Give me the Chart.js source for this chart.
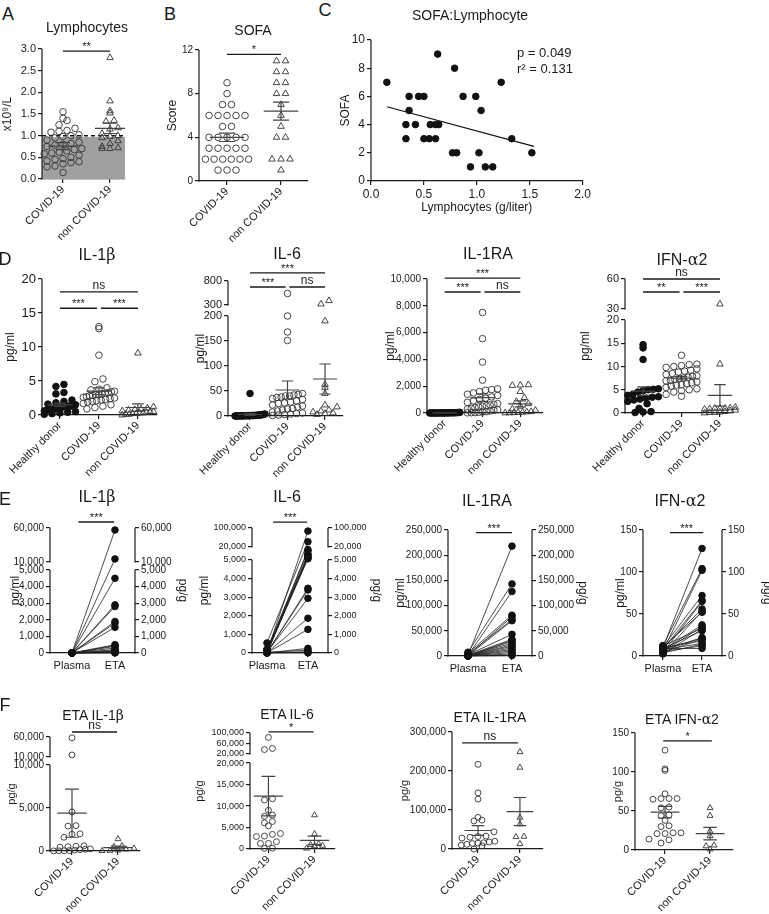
<!DOCTYPE html>
<html>
<head>
<meta charset="utf-8">
<script src="https://cdn.jsdelivr.net/npm/chart.js@4.4.1/dist/chart.umd.min.js"></script>
<style>
html, body { margin: 0; padding: 0; background: #fff; overflow: hidden; }
#page { position: relative; width: 769px; height: 914px; font-family: "Liberation Sans", Arial, Helvetica, sans-serif; color: #1a1a1a; }
#page canvas { position: absolute; }
.txt { position: absolute; transform: translate(-50%, -50%); white-space: nowrap; line-height: 1; }
.gauche { transform: translate(0, -50%); }
.grec { font-family: "DejaVu Serif", "Liberation Serif", serif; }
</style>
</head>
<body>
<div id="page"></div>
<script>
// ==========================================================
// DONNEES
// ==========================================================
const catsDeux = ['COVID-19', 'non COVID-19'];
const catsTrois = ['Healthy donor', 'COVID-19', 'non COVID-19'];
const catsPaires = ['Plasma', 'ETA'];

// A - Lymphocytes (x10^9/L)
const lymphoCovid = [1.55, 1.40, 1.35, 1.25, 1.17, 1.12, 1.10, 1.08, 1.02, 1.00, 0.98, 0.95, 0.90, 0.85, 0.82, 0.80, 0.78, 0.75, 0.70, 0.68, 0.65, 0.62, 0.60, 0.58, 0.55, 0.50, 0.47, 0.45, 0.42, 0.40, 0.38, 0.35, 0.30, 0.28, 0.15];
const lymphoNonCovid = [2.80, 1.80, 1.57, 1.52, 1.35, 1.33, 1.18, 1.15, 1.05, 1.00, 0.98, 0.95, 0.88, 0.82, 0.75, 0.72, 0.70, 0.70];
const lymphoMoy = [0.76, 1.17];
const lymphoSem = [0.08, 0.12];
const lymphoSeuil = 1.0;
const lymphoZoneGrise = 0.97;
const lymphoTicks = [0, 0.5, 1, 1.5, 2, 2.5, 3];

// B - SOFA
const sofaCovid = [9, 8, 7, 7, 6, 6, 6, 6, 6, 5, 5, 4, 4, 4, 4, 4, 3, 3, 3, 3, 3, 2, 2, 2, 2, 2, 2, 1, 1, 1];
const sofaNonCovid = [11, 11, 10, 10, 9, 9, 8, 8, 7, 6, 5, 4, 4, 2, 2, 2, 1];
const sofaMoy = [4.0, 6.4];
const sofaSem = [0.38, 0.83];
const sofaTicks = [0, 4, 8, 12];

// C - SOFA:Lymphocyte
const corrLympho = [0.15, 0.36, 0.45, 0.50, 0.36, 0.33, 0.42, 0.33, 0.50, 0.55, 0.61, 0.56, 0.61, 0.64, 0.63, 0.79, 0.77, 0.81, 0.87, 0.94, 0.99, 1.02, 1.04, 1.08, 1.15, 1.23, 1.33, 1.52];
const corrSofa = [7, 6, 6, 6, 5, 4, 4, 3, 3, 3, 3, 4, 4, 4, 9, 8, 2, 2, 6, 1, 6, 2, 5, 1, 1, 7, 3, 2];
const corrOrigine = 5.57;
const corrPente = -2.02;
const corrBornes = [0.15, 1.54];
const corrTicksY = [0, 2, 4, 6, 8, 10];

// D - cytokines plasmatiques (pg/ml)
const il1bSain = [4.5, 4.2, 3.3, 3.1, 2.2, 2.0, 1.8, 1.6, 1.5, 1.4, 1.3, 1.3, 1.2, 1.2, 1.1, 1.0, 1.0, 0.9, 0.8, 0.8, 0.7, 0.6, 0.5, 0.4, 0.3, 0.2, 0.1];
const il1bCovid = [13.0, 12.7, 8.8, 5.3, 4.9, 4.0, 3.8, 3.7, 3.5, 3.4, 3.3, 3.2, 3.1, 3.0, 3.0, 2.9, 2.8, 2.7, 2.6, 2.5, 2.4, 2.3, 2.2, 2.1, 2.0, 1.9, 1.7, 1.5, 1.3, 1.1, 0.9];
const il1bNonCovid = [9.1, 1.2, 1.0, 0.9, 0.8, 0.7, 0.6, 0.5, 0.5, 0.4, 0.3, 0.3, 0.2, 0.2, 0.1, 0.1, 0.0];
const il1bMoy = [1.5, 3.5, 1.1];
const il1bSem = [0.25, 0.5, 0.55];
const il1bTicks = [0, 5, 10, 15, 20];

const il6Sain = [45, 4, 3, 3, 2, 2, 2, 1.5, 1.5, 1, 1, 1, 1, 0.8, 0.8, 0.5, 0.5, 0.5, 0.3, 0.3, 0.2, 0.2, 0.1, 0.1, 0, 0];
const il6Covid = [540, 200, 168, 151, 45, 43, 42, 40, 40, 38, 37, 35, 33, 30, 28, 26, 25, 22, 20, 18, 15, 14, 12, 10, 8, 6, 5, 4, 3, 2, 1];
const il6NonCovid = [390, 320, 190, 63, 57, 45, 22, 18, 12, 10, 8, 6, 5, 3];
const il6Moy = [3, 52, 74];
const il6Sem = [2, 18, 30];
const il6TicksBas = [0, 50, 100, 150, 200];
const il6TicksHaut = [300, 800];

const il1raSain = [50, 40, 30, 30, 20, 20, 20, 15, 15, 10, 10, 10, 10, 5, 5, 5, 5, 5, 3, 3, 2, 2, 1, 1, 0];
const il1raCovid = [7500, 5550, 3800, 2450, 1800, 1750, 1700, 1600, 1500, 1400, 1300, 1200, 1100, 1000, 900, 800, 700, 650, 600, 550, 500, 450, 400, 350, 300, 250, 200, 150, 100, 80, 50, 30, 20, 10];
const il1raNonCovid = [2100, 2050, 2080, 1600, 1150, 850, 700, 500, 300, 200, 100, 80, 50, 30, 20, 10, 5];
const il1raMoy = [10, 1150, 680];
const il1raSem = [3, 280, 230];
const il1raTicks = [0, 2000, 4000, 6000, 8000, 10000];

const ifnSain = [14.7, 14.0, 11.5, 5.2, 5.1, 5.0, 4.8, 4.5, 4.0, 3.8, 3.5, 3.4, 3.2, 3.0, 2.8, 2.5, 2.0, 1.0, 0.3, 0.2, 0.1];
const ifnCovid = [12.4, 10.5, 10.4, 10.2, 10.0, 9.8, 9.5, 9.2, 9.0, 8.8, 8.5, 8.3, 8.0, 7.9, 7.7, 7.5, 7.4, 7.2, 7.0, 6.9, 6.7, 6.5, 6.3, 6.1, 6.0, 5.8, 5.5, 5.2, 5.0, 4.8, 4.5, 4.0, 3.6];
const ifnNonCovid = [35, 10.5, 1.2, 1.1, 1.0, 1.0, 1.0, 0.9, 0.8, 0.6, 0.5, 0.3, 0.2, 0.1, 0.1, 0.0];
const ifnMoy = [4.7, 7.5, 3.8];
const ifnSem = [0.9, 0.35, 2.3];
const ifnTicksBas = [0, 5, 10, 15, 20];
const ifnTicksHaut = [30, 60];

// E - plasma (pg/ml) vs aspiration endotrachéale (pg/g), appariés
const pairIl1bPlasma = [3.2, 13, 2.4, 5.3, 12.7, 2.0, 8.8, 4.9, 1.5, 3.8, 2.8, 4.0, 1.2, 3.0, 2.2, 1.0, 3.6, 2.6, 1.8, 3.4];
const pairIl1bEta = [57000, 14500, 4500, 2900, 2800, 1900, 1800, 1550, 500, 450, 400, 300, 200, 150, 100, 80, 50, 30, 20, 10];
const pairIl6Plasma = [45, 540, 30, 168, 20, 151, 10, 200, 42, 38, 15, 28, 35, 8, 12, 5, 40, 3, 25, 1];
const pairIl6Eta = [87000, 42000, 17000, 15500, 11700, 11400, 9000, 7900, 7600, 6400, 3480, 3390, 2940, 1870, 1270, 250, 150, 70, 30, 10];
const pairIl1raPlasma = [1800, 7500, 1300, 5500, 900, 3800, 500, 2400, 1700, 700, 300, 1500, 200, 1100, 400, 100, 600, 50, 150, 20];
const pairIl1raEta = [218000, 143000, 128000, 81000, 78000, 72000, 70000, 43000, 33000, 31000, 29000, 25000, 22000, 19000, 16000, 13000, 10000, 7000, 4000, 1000];
const pairIfnPlasma = [10, 12.4, 6, 11, 8, 4, 9.5, 3, 10.5, 7, 5, 12, 2.5, 9, 6.5, 8.5, 4.5, 10.2, 7.5, 3.6, 5.5, 8.8];
const pairIfnEta = [128, 104, 102, 72, 66, 65, 56, 53, 52, 37, 35, 33, 32, 30, 22, 21, 20, 18, 15, 14, 12, 9];
const pairIl1bTicksBas = [0, 1000, 2000, 3000, 4000, 5000];
const pairIl1bTicksHaut = [10000, 60000];
const pairIl6TicksBas = [0, 1000, 2000, 3000, 4000, 5000];
const pairIl6TicksHaut = [20000, 100000];
const pairIl1raTicks = [0, 50000, 100000, 150000, 200000, 250000];
const pairIfnTicks = [0, 50, 100, 150];

// F - ETA (pg/g)
const etaIl1bCovid = [58000, 15000, 4550, 2950, 2900, 2000, 1950, 1600, 600, 550, 500, 450, 250, 200, 150, 100, 50, 30, 20, 10];
const etaIl1bNonCovid = [1400, 600, 500, 300, 200, 100, 50, 20];
const etaIl1bMoy = [4400, 400];
const etaIl1bSem = [2800, 170];
const etaIl1bTicksBas = [0, 5000, 10000];
const etaIl1bTicksHaut = [10000, 60000];

const etaIl6Covid = [83000, 41000, 37000, 11700, 11400, 9000, 7900, 7600, 6400, 6100, 5400, 3600, 3400, 3000, 2900, 1700, 1300, 1300, 200, 150];
const etaIl6NonCovid = [7900, 3500, 1200, 1000, 800, 700, 150];
const etaIl6Moy = [12300, 2000];
const etaIl6Sem = [4600, 1000];
const etaIl6TicksBas = [0, 5000, 10000, 15000, 20000];
const etaIl6TicksHaut = [20000, 60000, 100000];

const etaIl1raCovid = [217000, 144000, 128000, 81000, 74000, 72000, 44000, 33000, 32000, 30000, 28000, 20000, 18000, 16000, 15000, 14000, 12000, 10000, 8000, 0];
const etaIl1raNonCovid = [249000, 209000, 81000, 64000, 32000, 31000, 13000];
const etaIl1raMoy = [47500, 96000];
const etaIl1raSem = [12500, 36000];
const etaIl1raTicks = [0, 100000, 200000, 300000];

const etaIfnCovid = [128, 104, 102, 72, 66, 66, 66, 65, 55, 54, 45, 44, 38, 31, 30, 22, 22, 21, 21, 14, 13, 9];
const etaIfnNonCovid = [54, 44, 24, 18, 6, 5, 1];
const etaIfnMoy = [48.5, 21];
const etaIfnSem = [7.5, 8];
const etaIfnTicks = [0, 50, 100, 150];

// ==========================================================
// STYLES
// ==========================================================
const NOIR = '#1a1a1a';
const POLICE = '"Liberation Sans", Arial, Helvetica, sans-serif';
Chart.defaults.font.family = POLICE;
Chart.defaults.color = NOIR;

const OUVERT = { forme: 'circle', r: 3.3, trait: '#333', fond: 'rgba(0,0,0,0)', ep: 0.9 };
const PLEIN = { forme: 'circle', r: 3.3, trait: '#111', fond: '#111', ep: 1 };
const TRIANGLE = { forme: 'triangle', r: 3.8, trait: '#333', fond: 'rgba(0,0,0,0)', ep: 0.9 };

const fmtMilliers = v => v.toLocaleString('en-US');
const fmtDecimal = v => v.toFixed(1);

// ==========================================================
// AXE COUPE (échelle linéaire par morceaux)
// ==========================================================
function segFrac(segs, v) {
    const n = segs.length;
    for (let i = 0; i < n; i++) {
        const s = segs[i];
        if (v <= s.max || i === n - 1) {
            if (v >= s.min || i === 0) return s.from + (v - s.min) / (s.max - s.min) * (s.to - s.from);
            const p = segs[i - 1]; // dans la coupure
            return p.to + (v - p.max) / (s.min - p.max) * (s.from - p.to);
        }
    }
    return NaN;
}

class EchelleCoupee extends Chart.LinearScale {
    static id = 'coupee';
    static defaults = {};
    segs() { return this.chart.canvas._segs; }
    buildTicks() {
        const t = [];
        this.segs().forEach((s, i) => s.ticks.forEach(v => t.push({ value: v, seg: i })));
        return t;
    }
    fracToPix(f) { return this.bottom - f * (this.bottom - this.top); }
    getPixelForValue(v) { return this.fracToPix(segFrac(this.segs(), v)); }
    getPixelForTick(i) {
        const t = this.ticks[i];
        if (!t) return null;
        const s = this.segs()[t.seg];
        return this.fracToPix(s.from + (t.value - s.min) / (s.max - s.min) * (s.to - s.from));
    }
    getValueForPixel(px) {
        const f = (this.bottom - px) / (this.bottom - this.top);
        const segs = this.segs();
        let s = segs[segs.length - 1];
        for (const sg of segs) { if (f <= sg.to) { s = sg; break; } }
        return s.min + (f - s.from) / (s.to - s.from) * (s.max - s.min);
    }
}
Chart.register(EchelleCoupee);

// Axe vertical (avec coupures) + crochets de significativité
const decor = {
    id: 'decor',
    afterDatasetsDraw(chart) {
        const ctx = chart.ctx, ca = chart.chartArea;
        const segs = chart.canvas._segs;
        ctx.save();
        ctx.strokeStyle = NOIR;
        ctx.lineWidth = 1.2;
        ['y', 'y2'].forEach(k => {
            const s = chart.scales[k];
            if (!s) return;
            const xx = k === 'y' ? ca.left : ca.right;
            segs.forEach(sg => {
                ctx.beginPath();
                ctx.moveTo(xx, s.fracToPix(sg.from) + 0.6);
                ctx.lineTo(xx, s.fracToPix(sg.to));
                ctx.stroke();
            });
        });
        const xs = chart.scales.x, ys = chart.scales.y;
        ctx.fillStyle = NOIR;
        ctx.textAlign = 'center';
        ctx.textBaseline = 'alphabetic';
        chart.canvas._crochets.forEach(c => {
            const xa = xs.getPixelForValue(c.a), xb = xs.getPixelForValue(c.b), yy = ys.getPixelForValue(c.y);
            ctx.lineWidth = 1.3;
            ctx.beginPath();
            ctx.moveTo(xa, yy);
            ctx.lineTo(xb, yy);
            ctx.stroke();
            const ns = c.t === 'ns';
            ctx.font = (ns ? '12px ' : '11px ') + POLICE;
            ctx.fillText(c.t, (xa + xb) / 2, yy - (ns ? 3 : 1));
        });
        ctx.restore();
    }
};

// ==========================================================
// CONSTRUCTION DES JEUX DE DONNEES
// ==========================================================
function essaim(vals, segs, hPx, unitPx, pasH, largeurMax) {
    const py = vals.map(v => segFrac(segs, v) * hPx);
    const rangs = new Map();
    vals.map((v, i) => i).sort((a, b) => py[a] - py[b]).forEach(i => {
        const r = Math.round(py[i] / 7);
        if (!rangs.has(r)) rangs.set(r, []);
        rangs.get(r).push(i);
    });
    const off = vals.map(() => 0);
    rangs.forEach(liste => {
        const n = liste.length;
        const ecart = n > 1 ? Math.min(pasH, largeurMax / (n - 1)) : 0;
        liste.forEach((i, k) => { off[i] = (k - (n - 1) / 2) * ecart / unitPx; });
    });
    return off;
}

function nuage(points, st, echelle) {
    return {
        type: 'scatter', data: points, showLine: false, clip: false,
        pointStyle: st.forme, pointRadius: st.r * (echelle || 1), pointBorderWidth: st.ep,
        pointBorderColor: st.trait, pointBackgroundColor: st.fond
    };
}

function barresMoy(moy, sem) {
    const d = [];
    const mh = 0.32, ch = 0.15;
    moy.forEach((m, i) => {
        const s = sem[i];
        d.push({ x: i - mh, y: m }, { x: i + mh, y: m }, { x: i, y: null },
               { x: i, y: m - s }, { x: i, y: m + s }, { x: i, y: null },
               { x: i - ch, y: m + s }, { x: i + ch, y: m + s }, { x: i, y: null },
               { x: i - ch, y: m - s }, { x: i + ch, y: m - s }, { x: i, y: null });
    });
    return { type: 'line', data: d, borderColor: '#444', borderWidth: 1.2, pointRadius: 0, spanGaps: false, clip: false, order: -1 };
}

function lignesPaires(avant, apres) {
    const d = [];
    avant.forEach((v, i) => d.push({ x: 0, y: v }, { x: 1, y: apres[i] }, { x: 1, y: null }));
    return { type: 'line', data: d, borderColor: '#222', borderWidth: 0.8, pointRadius: 0, spanGaps: false, clip: false, order: 1 };
}

// ==========================================================
// PANNEAU GENERIQUE
// ==========================================================
function creerPanneau(p) {
    const [L, T, W, H] = p.boite;
    const [x0, y0, x1, y1] = p.zone;
    const cv = document.createElement('canvas');
    cv.width = W;
    cv.height = H;
    cv.style.left = L + 'px';
    cv.style.top = T + 'px';
    cv._segs = p.segs;
    cv._crochets = p.crochets || [];
    document.getElementById('page').appendChild(cv);

    const unitPx = (x1 - x0) / (p.xMax - p.xMin);
    const datasets = [];
    (p.groupes || []).forEach((g, gi) => {
        const off = essaim(g.vals, p.segs, y1 - y0, unitPx, p.pasH || 8, 0.8 * unitPx);
        datasets.push(nuage(g.vals.map((v, k) => ({ x: gi + off[k], y: v })), g.st, p.taillePoint));
    });
    if (p.moy) datasets.push(barresMoy(p.moy, p.sem));
    if (p.paires) {
        datasets.push(lignesPaires(p.paires[0], p.paires[1]));
        datasets.push(nuage(p.paires[0].map(v => ({ x: 0, y: v })), PLEIN));
        datasets.push(nuage(p.paires[1].map(v => ({ x: 1, y: v })), PLEIN));
    }
    (p.extra || []).forEach(d => datasets.push(d));

    const axeY = (pos, titre) => ({
        type: 'coupee', position: pos,
        min: p.segs[0].min, max: p.segs[p.segs.length - 1].max,
        ticks: { autoSkip: false, padding: 2, color: NOIR, font: { size: p.tailleTicks || 11 }, callback: p.fmtY || fmtMilliers },
        grid: { drawOnChartArea: false, tickLength: 4, color: NOIR, lineWidth: 1.2 },
        border: { display: false },
        title: { display: !!titre, text: titre || '', color: NOIR, font: { size: p.tailleTitreAxe || 12 }, padding: 0 },
        afterFit: s => { s.width = pos === 'left' ? x0 - L : L + W - x1; }
    });

    const axeX = {
        type: 'linear', position: 'bottom', min: p.xMin, max: p.xMax,
        ticks: { autoSkip: false, color: NOIR, font: { size: 11 }, padding: p.rot ? 0 : 2, minRotation: p.rot || 0, maxRotation: p.rot || 0 },
        grid: { drawOnChartArea: false, tickLength: 4, color: NOIR, lineWidth: 1.2 },
        border: { display: true, color: NOIR, width: 1.2 },
        title: { display: !!p.titreX, text: p.titreX || '', color: NOIR, font: { size: 12 }, padding: 0 },
        afterFit: s => { s.height = T + H - y1; }
    };
    if (p.cats) {
        axeX.afterBuildTicks = s => { s.ticks = p.cats.map((c, i) => ({ value: i })); };
        axeX.ticks.callback = v => p.cats[v];
    } else {
        axeX.ticks.stepSize = p.pasX;
        axeX.ticks.font = { size: p.tailleTicks || 11 };
        axeX.ticks.callback = fmtDecimal;
    }

    const scales = { x: axeX, y: axeY('left', p.titreY) };
    if (p.titreY2) scales.y2 = axeY('right', p.titreY2);

    new Chart(cv, {
        type: 'scatter',
        data: { datasets },
        options: {
            responsive: false, animation: false, devicePixelRatio: 1, events: [],
            layout: { padding: { top: y0 - T, right: p.titreY2 ? 0 : L + W - x1, left: 0, bottom: 0 } },
            plugins: { legend: { display: false }, tooltip: { enabled: false } },
            scales
        },
        plugins: [decor]
    });
}

const seg1 = (ticks) => [{ min: ticks[0], max: ticks[ticks.length - 1], from: 0, to: 1, ticks }];
const seg2 = (bas, hautBas, haut, debutHaut) => [
    { min: bas[0], max: bas[bas.length - 1], from: 0, to: hautBas, ticks: bas },
    { min: haut[0], max: haut[haut.length - 1], from: debutHaut, to: 1, ticks: haut }
];

// ==========================================================
// LIGNE DU HAUT : A, B, C
// ==========================================================
creerPanneau({
    boite: [0, 30, 165, 215], zone: [42, 49, 125, 179], xMin: -0.447, xMax: 1.319,
    cats: catsDeux, rot: 45, segs: seg1(lymphoTicks), fmtY: fmtDecimal, titreY: 'x10⁹/L',
    groupes: [{ vals: lymphoCovid, st: OUVERT }, { vals: lymphoNonCovid, st: TRIANGLE }],
    moy: lymphoMoy, sem: lymphoSem,
    crochets: [{ a: 0, b: 1, y: 2.95, t: '**' }],
    extra: [
        { type: 'line', data: [{ x: -0.447, y: lymphoZoneGrise }, { x: 1.319, y: lymphoZoneGrise }], fill: 'origin', backgroundColor: '#a0a0a0', borderWidth: 0, pointRadius: 0, order: 5 },
        { type: 'line', data: [{ x: -0.447, y: lymphoSeuil }, { x: 1.319, y: lymphoSeuil }], borderColor: '#111', borderDash: [4, 3], borderWidth: 1.5, pointRadius: 0, order: 4 }
    ]
});

creerPanneau({
    boite: [165, 30, 150, 215], zone: [199, 50, 308, 181], xMin: -0.519, xMax: 1.5,
    cats: catsDeux, rot: 45, segs: seg1(sofaTicks), titreY: 'Score', pasH: 9, tailleTicks: 10,
    groupes: [{ vals: sofaCovid, st: OUVERT }, { vals: sofaNonCovid, st: TRIANGLE }],
    moy: sofaMoy, sem: sofaSem,
    crochets: [{ a: 0, b: 1, y: 11.6, t: '*' }]
});

creerPanneau({
    boite: [338, 30, 255, 185], zone: [371, 40, 586, 181], xMin: 0, xMax: 2, pasX: 0.5,
    segs: seg1(corrTicksY), titreY: 'SOFA', titreX: 'Lymphocytes (g/liter)', tailleTicks: 12,
    extra: [
        nuage(corrLympho.map((v, i) => ({ x: v, y: corrSofa[i] })), PLEIN),
        { type: 'line', data: corrBornes.map(v => ({ x: v, y: corrOrigine + corrPente * v })), borderColor: '#111', borderWidth: 1.2, pointRadius: 0 }
    ]
});

// ==========================================================
// LIGNE D
// ==========================================================
const crochetsD = (yHaut, yBas, tHaut, tG, tD) => [
    { a: 0, b: 2, y: yHaut, t: tHaut },
    { a: 0, b: 0.95, y: yBas, t: tG },
    { a: 1.05, b: 2, y: yBas, t: tD }
];

creerPanneau({
    boite: [3, 260, 172, 220], zone: [42, 279, 157, 415], xMin: -0.46, xMax: 2.49,
    cats: catsTrois, rot: 45, segs: seg1(il1bTicks), titreY: 'pg/ml', tailleTicks: 13,
    groupes: [{ vals: il1bSain, st: PLEIN }, { vals: il1bCovid, st: OUVERT }, { vals: il1bNonCovid, st: TRIANGLE }],
    moy: il1bMoy, sem: il1bSem,
    crochets: crochetsD(18.1, 15.7, 'ns', '***', '***')
});

creerPanneau({
    boite: [193, 255, 160, 225], zone: [228, 281, 343, 416], xMin: -0.587, xMax: 2.48,
    cats: catsTrois, rot: 45, segs: seg2(il6TicksBas, 0.741, il6TicksHaut, 0.822), titreY: 'pg/ml',
    groupes: [{ vals: il6Sain, st: PLEIN }, { vals: il6Covid, st: OUVERT }, { vals: il6NonCovid, st: TRIANGLE }],
    moy: il6Moy, sem: il6Sem,
    crochets: crochetsD(967, 675, '***', '***', 'ns')
});

creerPanneau({
    boite: [383, 260, 170, 220], zone: [427, 279, 543, 413], xMin: -0.47, xMax: 2.6,
    cats: catsTrois, rot: 45, segs: seg1(il1raTicks), titreY: 'pg/ml', tailleTicks: 10,
    groupes: [{ vals: il1raSain, st: PLEIN }, { vals: il1raCovid, st: OUVERT }, { vals: il1raNonCovid, st: TRIANGLE }],
    moy: il1raMoy, sem: il1raSem,
    crochets: crochetsD(10070, 9030, '***', '***', 'ns')
});

creerPanneau({
    boite: [578, 260, 165, 220], zone: [625, 279, 733, 413], xMin: -0.47, xMax: 2.34,
    cats: catsTrois, rot: 45, segs: seg2(ifnTicksBas, 0.694, ifnTicksHaut, 0.776), titreY: 'pg/ml',
    groupes: [{ vals: ifnSain, st: PLEIN }, { vals: ifnCovid, st: OUVERT }, { vals: ifnNonCovid, st: TRIANGLE }],
    moy: ifnMoy, sem: ifnSem,
    crochets: crochetsD(60, 47, 'ns', '**', '***')
});

// ==========================================================
// LIGNE E (appariés)
// ==========================================================
creerPanneau({
    boite: [8, 505, 182, 172], zone: [50, 528, 135, 653], xMin: -0.51, xMax: 1.465,
    cats: catsPaires, segs: seg2(pairIl1bTicksBas, 0.664, pairIl1bTicksHaut, 0.728),
    titreY: 'pg/ml', titreY2: 'pg/g', tailleTicks: 10, tailleTitreAxe: 12,
    paires: [pairIl1bPlasma, pairIl1bEta],
    crochets: [{ a: 0.15, b: 0.98, y: 68800, t: '***' }]
});

creerPanneau({
    boite: [197, 505, 187, 172], zone: [252, 528, 328, 653], xMin: -0.366, xMax: 1.49,
    cats: catsPaires, segs: seg2(pairIl6TicksBas, 0.744, pairIl6TicksHaut, 0.848),
    titreY: 'pg/ml', titreY2: 'pg/g', tailleTicks: 9, tailleTitreAxe: 12,
    paires: [pairIl6Plasma, pairIl6Eta],
    crochets: [{ a: 0.15, b: 0.98, y: 125000, t: '***' }]
});

creerPanneau({
    boite: [393, 505, 197, 175], zone: [448, 530, 532, 656], xMin: -0.455, xMax: 1.455,
    cats: catsPaires, segs: seg1(pairIl1raTicks),
    titreY: 'pg/ml', titreY2: 'pg/g', tailleTicks: 10, tailleTitreAxe: 12,
    paires: [pairIl1raPlasma, pairIl1raEta],
    crochets: [{ a: 0.18, b: 1.0, y: 244600, t: '***' }]
});

creerPanneau({
    boite: [613, 505, 162, 175], zone: [643, 530, 722, 656], xMin: -0.51, xMax: 1.51,
    cats: catsPaires, segs: seg1(pairIfnTicks),
    titreY: 'pg/ml', titreY2: 'pg/g', tailleTicks: 10, tailleTitreAxe: 12,
    paires: [pairIfnPlasma, pairIfnEta],
    crochets: [{ a: 0.18, b: 1.03, y: 146.8, t: '***' }]
});

// ==========================================================
// LIGNE F (ETA)
// ==========================================================
creerPanneau({
    boite: [5, 718, 150, 196], zone: [50, 737, 140, 851], xMin: -0.478, xMax: 1.478,
    cats: catsDeux, rot: 45, segs: seg2(etaIl1bTicksBas, 0.754, etaIl1bTicksHaut, 0.825),
    titreY: 'pg/g', tailleTicks: 10, tailleTitreAxe: 11, taillePoint: 0.9,
    groupes: [{ vals: etaIl1bCovid, st: OUVERT }, { vals: etaIl1bNonCovid, st: TRIANGLE }],
    moy: etaIl1bMoy, sem: etaIl1bSem,
    crochets: [{ a: 0, b: 0.98, y: 72500, t: 'ns' }]
});

creerPanneau({
    boite: [193, 718, 150, 196], zone: [250, 733, 335, 849], xMin: -0.4, xMax: 1.444,
    cats: catsDeux, rot: 45, segs: seg2(etaIl6TicksBas, 0.741, etaIl6TicksHaut, 0.819),
    titreY: 'pg/g', tailleTicks: 9, tailleTitreAxe: 11, taillePoint: 0.9,
    groupes: [{ vals: etaIl6Covid, st: OUVERT }, { vals: etaIl6NonCovid, st: TRIANGLE }],
    moy: etaIl6Moy, sem: etaIl6Sem,
    crochets: [{ a: 0, b: 0.98, y: 104000, t: '*' }]
});

creerPanneau({
    boite: [398, 718, 155, 196], zone: [452, 732, 543, 849], xMin: -0.62, xMax: 1.55,
    cats: catsDeux, rot: 45, segs: seg1(etaIl1raTicks),
    titreY: 'pg/g', tailleTicks: 10, tailleTitreAxe: 11, taillePoint: 0.9,
    groupes: [{ vals: etaIl1raCovid, st: OUVERT }, { vals: etaIl1raNonCovid, st: TRIANGLE }],
    moy: etaIl1raMoy, sem: etaIl1raSem,
    crochets: [{ a: -0.38, b: 0.95, y: 272000, t: 'ns' }]
});

creerPanneau({
    boite: [611, 718, 130, 196], zone: [635, 733, 733, 850], xMin: -0.667, xMax: 1.51,
    cats: catsDeux, rot: 45, segs: seg1(etaIfnTicks),
    titreY: 'pg/g', tailleTicks: 10, tailleTitreAxe: 11, taillePoint: 0.9,
    groupes: [{ vals: etaIfnCovid, st: OUVERT }, { vals: etaIfnNonCovid, st: TRIANGLE }],
    moy: etaIfnMoy, sem: etaIfnSem,
    crochets: [{ a: -0.04, b: 1.04, y: 140, t: '*' }]
});

// ==========================================================
// TEXTES (lettres, titres, statistiques)
// ==========================================================
const B = s => '<span class="grec">' + s + '</span>';
const textes = [
    ['A', 8, 14, 18], ['B', 170, 14, 18], ['C', 325, 10, 18],
    ['D', 5, 259, 18], ['E', 5, 499, 18], ['F', 5, 705, 18],
    ['Lymphocytes', 87, 27, 14], ['SOFA', 253, 30, 14], ['SOFA:Lymphocyte', 470, 15, 14],
    ['IL-1' + B('β'), 97, 255, 16], ['IL-6', 287, 254, 16], ['IL-1RA', 488, 254, 16], ['IFN-' + B('α') + '2', 682, 260, 16],
    ['IL-1' + B('β'), 97, 497, 16], ['IL-6', 287, 497, 16], ['IL-1RA', 487, 501, 16], ['IFN-' + B('α') + '2', 680, 501, 16],
    ['ETA IL-1' + B('β'), 93, 715, 14], ['ETA IL-6', 287, 714, 14], ['ETA IL-1RA', 490, 717, 14], ['ETA IFN-' + B('α') + '2', 682, 719, 14]
];
const page = document.getElementById('page');
textes.forEach(([html, x, y, taille]) => {
    const d = document.createElement('div');
    d.className = 'txt';
    d.innerHTML = html;
    d.style.left = x + 'px';
    d.style.top = y + 'px';
    d.style.fontSize = taille + 'px';
    page.appendChild(d);
});
[['p = 0.049', 517, 52], ['r² = 0.131', 517, 68]].forEach(([t, x, y]) => {
    const d = document.createElement('div');
    d.className = 'txt gauche';
    d.textContent = t;
    d.style.left = x + 'px';
    d.style.top = y + 'px';
    d.style.fontSize = '13px';
    page.appendChild(d);
});
</script>
</body>
</html>
